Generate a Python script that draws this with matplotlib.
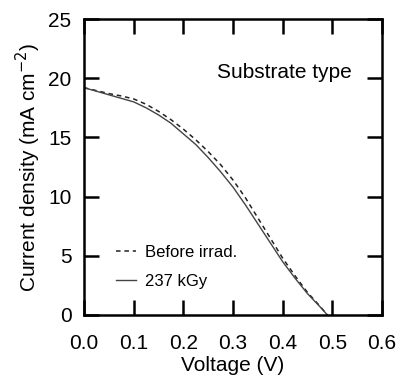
import matplotlib
matplotlib.use("Agg")
import matplotlib.pyplot as plt

plt.rcParams['font.family'] = ['Liberation Sans', 'DejaVu Sans']

# J-V curves
voltage = [0.0, 0.025, 0.05, 0.075, 0.10, 0.125, 0.15, 0.175, 0.20, 0.225,
           0.25, 0.275, 0.30, 0.325, 0.35, 0.375, 0.40, 0.425, 0.45, 0.475, 0.49]
before_irrad = [19.2, 18.95, 18.7, 18.5, 18.25, 17.8, 17.2, 16.5, 15.7, 14.8,
                13.8, 12.7, 11.4, 9.9, 8.2, 6.5, 4.8, 3.3, 1.9, 0.75, 0.0]
after_237kgy = [19.2, 18.9, 18.6, 18.3, 18.0, 17.5, 16.9, 16.2, 15.3, 14.4,
                13.3, 12.1, 10.8, 9.3, 7.7, 6.1, 4.5, 3.1, 1.8, 0.7, 0.0]

x_ticks = [0.0, 0.1, 0.2, 0.3, 0.4, 0.5, 0.6]
y_ticks = [0, 5, 10, 15, 20, 25]

fig = plt.figure(figsize=(4.03, 3.78), dpi=100)
ax = fig.add_axes([0.2084, 0.1667, 0.7396, 0.783])

ax.plot(voltage, before_irrad, color='#222222', lw=1.1, dashes=(3, 2.5),
        label='Before irrad.')
ax.plot(voltage, after_237kgy, color='#444444', lw=1.0, label='237 kGy')

ax.set_xlim(0, 0.6)
ax.set_ylim(0, 25)
ax.set_xticks(x_ticks)
ax.set_xticklabels(['%.1f' % v for v in x_ticks])
ax.set_yticks(y_ticks)

for s in ax.spines.values():
    s.set_linewidth(1.8)
ax.tick_params(direction='in', length=11, width=1.8, top=True, right=True,
               labelsize=15)
ax.tick_params(axis='x', pad=14)
ax.tick_params(axis='y', pad=9)

ax.set_xlabel('Voltage (V)', fontsize=15, labelpad=1.5)
ax.set_ylabel('Current density (mA cm$^{-2}$)', fontsize=15, labelpad=4)

ax.text(0.539, 20.5, 'Substrate type', fontsize=15, ha='right', va='center')

ax.legend(loc='lower left', bbox_to_anchor=(0.057, 0.036), frameon=False,
          fontsize=12, handlelength=1.2, handletextpad=0.55, labelspacing=0.85)

fig.savefig('out.png', dpi=100)
